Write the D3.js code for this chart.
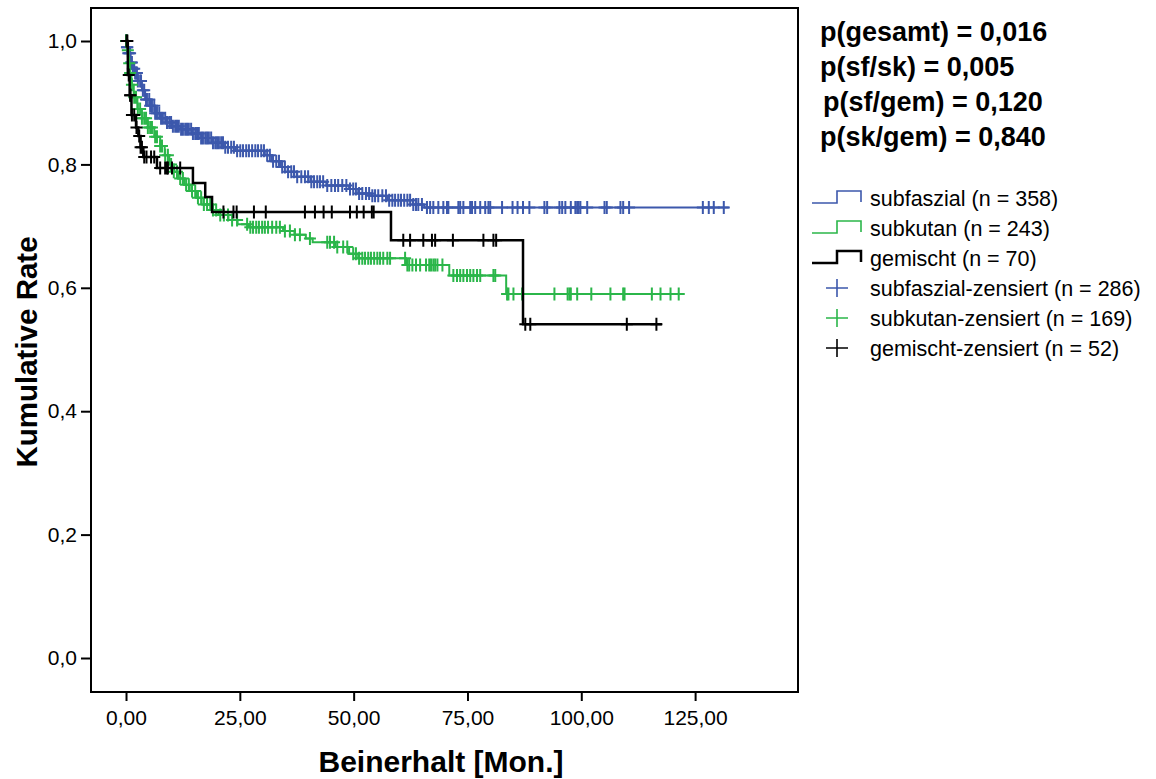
<!DOCTYPE html>
<html>
<head>
<meta charset="utf-8">
<script src="https://cdn.jsdelivr.net/npm/d3@7"></script>
<style>
  body { margin: 0; background: #fff; }
  svg { font-family: "Liberation Sans", Arial, sans-serif; }
</style>
</head>
<body>
<svg id="km-chart"></svg>
<script>
// Kaplan-Meier Kurven: Beinerhalt nach Lage
const width = 1156;
const height = 779;

// Stufen (Zeit in Monaten, kumulative Rate)
const subfaszialT = [0, 0.2, 0.5, 1.0, 1.5, 2.0, 2.6, 3.5, 4.2, 5.2, 6.3, 7.5, 8.8, 10, 12, 14.5, 16.5, 19, 21.5, 24, 30.5, 32, 34, 35.5, 37.5, 40.5, 44, 49, 51, 54, 57.5, 63, 65.5];
const subfaszialS = [1.0, 0.99, 0.98, 0.965, 0.955, 0.948, 0.935, 0.92, 0.905, 0.895, 0.883, 0.875, 0.868, 0.862, 0.857, 0.85, 0.843, 0.835, 0.828, 0.822, 0.815, 0.805, 0.796, 0.788, 0.78, 0.772, 0.766, 0.76, 0.753, 0.749, 0.742, 0.735, 0.73];
const subfaszialEnd = 132.4;

const subkutanT = [0, 0.3, 0.6, 0.9, 1.2, 1.7, 2.5, 3.5, 4.8, 6.2, 7.5, 8.5, 9.5, 10.5, 11.5, 12.8, 14, 15.5, 17, 18.7, 20.3, 22.5, 24.5, 27, 34.5, 37, 39.5, 41, 46, 49, 51, 61.5, 71, 83.5];
const subkutanS = [1.0, 0.985, 0.964, 0.948, 0.929, 0.909, 0.89, 0.875, 0.86, 0.845, 0.83, 0.815, 0.8, 0.788, 0.777, 0.767, 0.757, 0.746, 0.735, 0.726, 0.718, 0.71, 0.703, 0.698, 0.692, 0.686, 0.68, 0.674, 0.666, 0.655, 0.648, 0.637, 0.62, 0.59];
const subkutanEnd = 122.6;

const gemischtT = [0, 0.4, 0.8, 1.2, 2.2, 2.7, 3.2, 3.8, 6.8, 14.7, 17.4, 18.9, 58.2, 87.2];
const gemischtS = [1.0, 0.945, 0.912, 0.88, 0.86, 0.846, 0.828, 0.812, 0.794, 0.77, 0.747, 0.723, 0.677, 0.541];
const gemischtEnd = 117.7;

// Zensierte Fälle (Zeitpunkte)
const subfaszialCensored = [0, 0.1, 0.2, 0.3, 0.5, 0.7, 0.9, 1.1, 1.3, 1.5, 1.8, 2.0, 2.2, 2.4, 2.6,
  3.1, 3.3, 3.7, 4.0, 4.4, 4.6, 5.1, 5.3, 5.7, 6.2, 6.4, 6.8, 7.3, 7.7, 8.1, 8.6, 9.0, 9.5, 9.9, 10.3,
  10.8, 11.2, 11.6, 12.1, 12.5, 13.0, 13.4, 13.8, 14.3, 14.7, 15.2, 15.6, 16.0, 16.5, 16.9, 17.4, 17.8,
  18.2, 18.7, 19.1, 19.6, 20.0, 20.4, 20.9, 21.3, 21.8, 22.4, 23.1, 23.7, 24.4, 25.1, 25.7, 26.4, 27.0,
  27.7, 28.4, 29.0, 29.7, 30.3, 31.0, 31.6, 32.3, 33.0, 33.6, 34.3, 34.9, 35.6, 36.3, 36.9, 37.6, 38.5,
  39.3, 40.0, 40.7, 41.3, 42.0, 42.6, 43.3, 44.2, 45.1, 45.9, 46.6, 47.5, 48.4, 49.2, 49.9, 50.5, 51.2,
  51.9, 52.7, 53.4, 54.1, 54.7, 55.4, 56.3, 57.1, 57.8, 58.5, 59.1, 59.8, 60.4, 61.1, 61.8, 62.4, 63.1,
  63.7, 64.2, 65.0, 66.1, 66.8, 67.5, 68.6, 69.7, 70.5, 70.8, 73.0, 73.4, 74.1, 75.6, 76.0, 76.7, 77.8,
  78.9, 79.6, 80.0, 82.6, 84.9, 86.0, 87.2, 88.6, 91.9, 92.5, 95.2, 95.8, 96.5, 97.7, 98.7, 99.1, 99.4,
  99.8, 101.3, 105.1, 105.6, 108.6, 109.2, 110.5, 126.7, 128.0, 129.1, 131.3];

const subkutanCensored = [0, 0.1, 0.2, 0.4, 0.7, 0.9, 1.3, 1.8, 2.2, 2.6, 3.1, 3.5, 4.0, 4.4, 4.8, 5.3,
  5.7, 6.4, 6.8, 7.5, 7.9, 8.6, 9.2, 9.9, 10.5, 11.2, 11.9, 12.5, 13.2, 13.8, 14.5, 15.2, 15.8, 16.5,
  17.1, 17.8, 18.5, 19.1, 19.8, 20.7, 21.5, 22.4, 23.3, 24.4, 26.6, 27.3, 27.9, 28.6, 29.2, 29.9, 30.5,
  31.2, 32.1, 33.0, 33.8, 34.9, 36.0, 37.1, 38.2, 40.4, 44.2, 44.8, 45.7, 46.4, 47.7, 48.6, 49.9, 50.5,
  51.2, 51.9, 52.5, 53.2, 53.8, 54.5, 55.2, 55.8, 56.5, 57.4, 58.0, 61.3, 61.8, 62.2, 62.9, 63.7, 64.6,
  65.9, 66.6, 67.0, 67.5, 67.9, 68.4, 69.5, 71.9, 72.7, 73.4, 74.1, 74.9, 75.6, 76.3, 77.1, 77.8, 80.7,
  81.1, 83.7, 84.0, 85.1, 87.0, 94.1, 97.0, 97.4, 97.7, 99.1, 102.2, 106.4, 109.2, 109.5, 115.5, 117.4,
  119.6, 121.4];

const gemischtCensored = [0.1, 0.3, 0.6, 0.9, 1.0, 1.3, 1.8, 2.3, 2.9, 3.2, 3.5, 4.0, 4.5, 5.5, 6.2,
  7.5, 8.6, 9.0, 9.2, 10.1, 11.9, 21.4, 23.6, 24.3, 28.1, 30.7, 39.3, 41.5, 43.4, 45.2, 49.2, 50.7, 52.2,
  54.0, 54.4, 60.9, 62.4, 65.3, 67.2, 67.9, 71.8, 78.5, 80.7, 81.3, 87.7, 88.8, 110.0, 116.5];

// Achsen
const xTicks = [0, 25, 50, 75, 100, 125];
const yTicks = [0, 0.2, 0.4, 0.6, 0.8, 1.0];

// Texte
const pValues = ["p(gesamt) = 0,016", "p(sf/sk) = 0,005", "p(sf/gem) = 0,120", "p(sk/gem) = 0,840"];
const lineLabels = ["subfaszial (n = 358)", "subkutan (n = 243)", "gemischt (n = 70)"];
const censorLabels = ["subfaszial-zensiert (n = 286)", "subkutan-zensiert (n = 169)", "gemischt-zensiert (n = 52)"];
const colors = ["#3c58ac", "#2bb64a", "#000000"];

const frame = { left: 91, right: 798, top: 8, bottom: 692 };

const svg = d3.select("#km-chart")
  .attr("width", width)
  .attr("height", height);

const x = d3.scaleLinear().domain([-7.69, 147.6]).range([frame.left, frame.right]);
const y = d3.scaleLinear().domain([-0.0551, 1.0535]).range([frame.bottom, frame.top]);

const fmtX = d => d3.format(".2f")(d).replace(".", ",");
const fmtY = d => d3.format(".1f")(d).replace(".", ",");

// Rahmen
svg.append("rect")
  .attr("x", frame.left)
  .attr("y", frame.top)
  .attr("width", frame.right - frame.left)
  .attr("height", frame.bottom - frame.top)
  .attr("fill", "none")
  .attr("stroke", "#000")
  .attr("stroke-width", 2);

// x-Achse
const xAxis = svg.append("g")
  .attr("transform", `translate(0,${frame.bottom})`)
  .call(d3.axisBottom(x).tickValues(xTicks).tickFormat(fmtX).tickSize(9).tickPadding(9));
xAxis.select(".domain").remove();
xAxis.selectAll("line").attr("stroke-width", 2);
xAxis.selectAll("text").style("font-size", "21px").attr("fill", "#000");

// y-Achse
const yAxis = svg.append("g")
  .attr("transform", `translate(${frame.left},0)`)
  .call(d3.axisLeft(y).tickValues(yTicks).tickFormat(fmtY).tickSize(10).tickPadding(4));
yAxis.select(".domain").remove();
yAxis.selectAll("line").attr("stroke-width", 2);
yAxis.selectAll("text").style("font-size", "21px").attr("fill", "#000");

// Achsentitel
svg.append("text")
  .attr("x", 441)
  .attr("y", 772)
  .attr("text-anchor", "middle")
  .style("font-size", "30px")
  .style("font-weight", "bold")
  .text("Beinerhalt [Mon.]");

svg.append("text")
  .attr("transform", `translate(37,352) rotate(-90)`)
  .attr("text-anchor", "middle")
  .style("font-size", "29.5px")
  .style("font-weight", "bold")
  .text("Kumulative Rate");

// Kurven
const series = [
  { t: subfaszialT, s: subfaszialS, end: subfaszialEnd, cens: subfaszialCensored, color: colors[0], w: 2 },
  { t: subkutanT, s: subkutanS, end: subkutanEnd, cens: subkutanCensored, color: colors[1], w: 2 },
  { t: gemischtT, s: gemischtS, end: gemischtEnd, cens: gemischtCensored, color: colors[2], w: 2.5 }
];

const stepLine = d3.line()
  .x(d => x(d[0]))
  .y(d => y(d[1]))
  .curve(d3.curveStepAfter);

const plot = svg.append("g");

series.forEach(ser => {
  const pts = ser.t.map((t, i) => [t, ser.s[i]]);
  pts.push([ser.end, ser.s[ser.s.length - 1]]);

  plot.append("path")
    .datum(pts)
    .attr("fill", "none")
    .attr("stroke", ser.color)
    .attr("stroke-width", ser.w)
    .attr("d", stepLine);

  // Rate zum Zeitpunkt der Zensierung
  const bis = d3.bisector(d => d).right;
  const rateAt = t => ser.s[Math.max(0, bis(ser.t, t) - 1)];

  plot.selectAll(null)
    .data(ser.cens)
    .enter()
    .append("path")
    .attr("fill", "none")
    .attr("stroke", ser.color)
    .attr("stroke-width", 2)
    .attr("d", d => {
      const cx = x(d), cy = y(rateAt(d));
      return `M${cx - 6},${cy}H${cx + 6}M${cx},${cy - 6.5}V${cy + 6.5}`;
    });
});

// p-Werte
svg.selectAll(".pval")
  .data(pValues)
  .enter()
  .append("text")
  .attr("class", "pval")
  .attr("x", (d, i) => i === 2 ? 823 : 820)
  .attr("y", (d, i) => 41 + i * 35)
  .style("font-size", "27px")
  .style("font-weight", "bold")
  .text(d => d);

// Legende
const legend = svg.append("g");
const rowY = i => 198 + i * 30;

lineLabels.forEach((lab, i) => {
  const cy = rowY(i);
  legend.append("path")
    .attr("fill", "none")
    .attr("stroke", colors[i])
    .attr("stroke-width", i === 2 ? 2.5 : 1.6)
    .attr("d", `M812,${cy + 5}H837V${cy - 7}H861V${cy + 4}`);
  legend.append("text")
    .attr("x", 870)
    .attr("y", cy)
    .attr("dy", "0.35em")
    .style("font-size", "21.5px")
    .text(lab);
});

censorLabels.forEach((lab, i) => {
  const cy = rowY(i + 3);
  legend.append("path")
    .attr("fill", "none")
    .attr("stroke", colors[i])
    .attr("stroke-width", 1.6)
    .attr("d", `M826,${cy}H848M837,${cy - 9}V${cy + 9}`);
  legend.append("text")
    .attr("x", 870)
    .attr("y", cy)
    .attr("dy", "0.35em")
    .style("font-size", "21.5px")
    .text(lab);
});
</script>
</body>
</html>
